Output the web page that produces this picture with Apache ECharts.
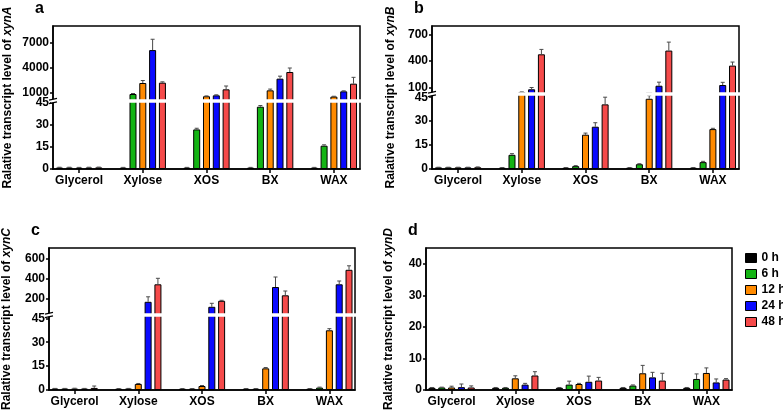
<!DOCTYPE html>
<html><head><meta charset="utf-8">
<script src="https://cdn.jsdelivr.net/npm/echarts@6/dist/echarts.min.js"></script>
<style>html,body{margin:0;padding:0;background:#fff}#c{width:783px;height:415px}</style>
</head><body><div id="c"></div>
<script>
// ---------- DATA ----------
const categories = ['Glycerol', 'Xylose', 'XOS', 'BX', 'WAX'];
const timePoints = ['0 h', '6 h', '12 h', '24 h', '48 h'];

// rows = time points (0,6,12,24,48 h), columns = categories
const xynA_mean = [
  [1.0, 0.9, 0.9, 0.9, 0.9],
  [1.0, 880, 27, 42.5, 15.9],
  [0.9, 2200, 610, 1320, 570],
  [1.0, 6150, 720, 2720, 1200],
  [1.1, 2240, 1440, 3520, 2120]
];
const xynA_err = [
  [0.2, 0.2, 0.2, 0.2, 0.2],
  [0.2, 60, 0.8, 0.8, 0.6],
  [0.2, 300, 40, 150, 40],
  [0.2, 1300, 60, 300, 60],
  [0.2, 100, 400, 480, 760]
];
const xynB_mean = [
  [1.0, 0.8, 0.8, 0.8, 0.8],
  [1.0, 8.9, 1.8, 3.0, 4.3],
  [1.0, 50, 21.5, 44, 25],
  [1.0, 82, 26.5, 122, 130],
  [1.1, 475, 40.5, 517, 348]
];
const xynB_err = [
  [0.1, 0.1, 0.1, 0.1, 0.1],
  [0.1, 0.7, 0.3, 0.3, 0.5],
  [0.1, 2, 1, 2, 0.5],
  [0.1, 20, 2.5, 40, 30],
  [0.2, 55, 4.5, 95, 40]
];
const xynC_mean = [
  [0.9, 0.8, 0.8, 0.8, 0.8],
  [0.9, 0.9, 0.8, 0.8, 1.5],
  [0.9, 3.8, 2.5, 13.6, 37.5],
  [0.9, 165, 115, 313, 340],
  [1.3, 340, 175, 230, 485]
];
const xynC_err = [
  [0.1, 0.1, 0.1, 0.1, 0.1],
  [0.1, 0.1, 0.1, 0.1, 0.3],
  [0.2, 0.3, 0.3, 0.5, 1],
  [0.1, 50, 35, 100, 33],
  [1.2, 60, 5, 43, 40]
];
const xynD_mean = [
  [0.7, 0.7, 0.7, 0.7, 0.7],
  [0.8, 0.7, 1.7, 1.4, 3.5],
  [0.8, 3.7, 1.9, 5.3, 5.4],
  [0.9, 1.7, 2.6, 4.0, 2.4],
  [0.8, 4.6, 3.0, 3.0, 3.3]
];
const xynD_err = [
  [0.1, 0.1, 0.1, 0.1, 0.1],
  [0.1, 0.1, 1.1, 0.2, 1.6],
  [0.4, 0.8, 0.2, 2.5, 1.6],
  [1.0, 0.4, 1.8, 1.6, 1.1],
  [0.5, 1.2, 1.0, 2.3, 0.3]
];

const lowerTicks = [0, 15, 30, 45];
const xynA_upperTicks = [1000, 4000, 7000];
const xynB_upperTicks = [100, 400, 700];
const xynC_upperTicks = [200, 400, 600];
const xynD_ticks = [0, 10, 20, 30, 40];

// ---------- STYLE / LAYOUT ----------
const colors = ['#000000', '#14b414', '#ff8a00', '#0a0aff', '#f54a4a'];
const FONT = '"Liberation Sans", Arial, Helvetica, sans-serif';
const SPACING = 63.7;   // px per category
const BAR_FRAC = 0.11, GAP_FRAC = 0.40;

const panels = [
  {label: 'a', gene: 'xynA', mean: xynA_mean, err: xynA_err, L: 53, R: 360, T: 26, B: 169, titleX: 8,
   brk: {y: 101, lowMax: 46.4, upMin: 40, upMax: 9040, upTicks: xynA_upperTicks}},
  {label: 'b', gene: 'xynB', mean: xynB_mean, err: xynB_err, L: 432, R: 739, T: 26, B: 169, titleX: 391,
   brk: {y: 94, lowMax: 47, upMin: 29, upMax: 793, upTicks: xynB_upperTicks}},
  {label: 'c', gene: 'xynC', mean: xynC_mean, err: xynC_err, L: 49, R: 355, T: 248, B: 390, titleX: 7,
   brk: {y: 315, lowMax: 47.1, upMin: 33, upMax: 703, upTicks: xynC_upperTicks}},
  {label: 'd', gene: 'xynD', mean: xynD_mean, err: xynD_err, L: 426, R: 732, T: 248, B: 390, titleX: 389,
   brk: null, max: 45, ticks: xynD_ticks}
];

const grids = [], xAxes = [], yAxes = [], series = [], graphics = [];

function renderErr(params, api) {
  const x = api.value(0), y = api.value(1), e = api.value(2), s = api.value(3);
  const band = api.size([1, 0])[0];
  const bw = band * BAR_FRAC, gap = bw * GAP_FRAC;
  const off = (s - 2) * (bw + gap);
  const p0 = api.coord([x, y]);
  const p1 = api.coord([x, y + e]);
  const cx = p0[0] + off;
  const capW = 2;
  const st = {stroke: '#4a4a4a', lineWidth: 1};
  return {type: 'group', children: [
    {type: 'line', shape: {x1: cx, y1: p0[1], x2: cx, y2: p1[1]}, style: st},
    {type: 'line', shape: {x1: cx - capW, y1: p1[1], x2: cx + capW, y2: p1[1]}, style: st}
  ]};
}

panels.forEach(p => {
  const W = p.R - p.L;
  const half = W / (2 * SPACING);
  let segs;
  if (p.brk) {
    segs = [
      {top: p.T, bottom: p.brk.y, min: p.brk.upMin, max: p.brk.upMax, ticks: p.brk.upTicks, lower: false},
      {top: p.brk.y, bottom: p.B, min: 0, max: p.brk.lowMax, ticks: lowerTicks, lower: true}
    ];
  } else {
    segs = [{top: p.T, bottom: p.B, min: 0, max: p.max, ticks: p.ticks, lower: true, single: true}];
  }
  segs.forEach(sg => {
    const g = grids.length;
    grids.push({left: p.L, top: sg.top, width: W, height: sg.bottom - sg.top,
      show: true, borderColor: '#000', borderWidth: 1.5, backgroundColor: 'transparent'});
    xAxes.push({
      gridIndex: g, type: 'value', min: 2 - half, max: 2 + half, show: sg.lower,
      splitLine: {show: false},
      axisLine: {show: true, onZero: false, lineStyle: {color: '#000', width: 1.5}},
      axisTick: {show: true, inside: false, length: 4, customValues: [0, 1, 2, 3, 4], lineStyle: {color: '#000', width: 1.5}},
      axisLabel: {show: true, customValues: [0, 1, 2, 3, 4], margin: 6,
        formatter: v => categories[Math.round(v)] || '',
        color: '#000', fontWeight: 'bold', fontSize: 12, fontFamily: FONT}
    });
    yAxes.push({
      gridIndex: g, type: 'value', min: sg.min, max: sg.max,
      splitLine: {show: false},
      axisLine: {show: true, onZero: false, lineStyle: {color: '#000', width: 1.5}},
      axisTick: {show: true, inside: false, length: 3, customValues: sg.ticks, lineStyle: {color: '#000', width: 1.5}},
      axisLabel: {show: true, customValues: sg.ticks, margin: 4, formatter: v => String(v),
        color: '#000', fontWeight: 'bold', fontSize: 12, fontFamily: FONT}
    });
    for (let s = 0; s < timePoints.length; s++) {
      series.push({
        type: 'bar', name: timePoints[s], xAxisIndex: g, yAxisIndex: g,
        data: categories.map((c, i) => [i, p.mean[s][i]]),
        barWidth: (BAR_FRAC * 100) + '%', barGap: (GAP_FRAC * 100) + '%',
        itemStyle: {color: colors[s], borderColor: '#000', borderWidth: 1},
        clip: true, animation: false, emphasis: {disabled: true}, silent: true
      });
    }
    const errData = [];
    for (let s = 0; s < timePoints.length; s++) {
      for (let i = 0; i < categories.length; i++) {
        const v = p.mean[s][i];
        const inSeg = sg.single ? true : (sg.lower ? v <= 45 : v > 45);
        if (inSeg) errData.push([i, v, p.err[s][i], s]);
      }
    }
    series.push({
      type: 'custom', xAxisIndex: g, yAxisIndex: g, renderItem: renderErr,
      data: errData, encode: {x: 0, y: 1}, clip: true, animation: false, silent: true, z: 3
    });
  });

  // break band and marks
  if (p.brk) {
    const y = p.brk.y;
    graphics.push({type: 'rect', z: 100, silent: true,
      shape: {x: p.L - 2, y: y - 1.75, width: W + 4, height: 3.5},
      style: {fill: '#fff'}});
    [-1.75, 1.75].forEach(d => {
      graphics.push({type: 'line', z: 101, silent: true,
        shape: {x1: p.L - 4, y1: y + d + 0.8, x2: p.L + 4, y2: y + d - 0.8},
        style: {stroke: '#000', lineWidth: 1.3}});
    });
  }

  // panel letter
  const lx = p.L - 18;
  graphics.push({type: 'text', z: 100, silent: true, x: lx, y: p.T - 17,
    style: {text: p.label, fontSize: 16, fontWeight: 'bold', fontFamily: FONT,
      font: 'bold 16px ' + FONT, fill: '#000',
      align: 'left', textAlign: 'left', verticalAlign: 'middle', textVerticalAlign: 'middle'}});

  // y axis title
  graphics.push({type: 'text', z: 100, silent: true,
    x: p.titleX, y: (p.T + p.B) / 2, rotation: Math.PI / 2,
    style: {text: 'Ralative transcript level of {i|' + p.gene + '}',
      fontSize: 12, fontWeight: 'bold', fontFamily: FONT, font: 'bold 12px ' + FONT, fill: '#000',
      align: 'center', textAlign: 'center', verticalAlign: 'middle', textVerticalAlign: 'middle',
      rich: {i: {fontStyle: 'italic', fontWeight: 'bold', fontSize: 12, fontFamily: FONT,
        font: 'italic bold 12px ' + FONT, fill: '#000'}}}});
});

const chart = echarts.init(document.getElementById('c'), null, {renderer: 'canvas'});
chart.setOption({
  animation: false,
  backgroundColor: '#fff',
  grid: grids,
  xAxis: xAxes,
  yAxis: yAxes,
  legend: {
    data: timePoints, orient: 'vertical', left: 740, top: 246,
    itemWidth: 11, itemHeight: 9, itemGap: 2, icon: 'rect', selectedMode: false,
    itemStyle: {borderColor: '#000', borderWidth: 1},
    textStyle: {fontFamily: FONT, fontWeight: 'bold', fontSize: 12, color: '#000', lineHeight: 14}
  },
  series: series,
  graphic: {elements: graphics}
});
</script>
</body></html>
